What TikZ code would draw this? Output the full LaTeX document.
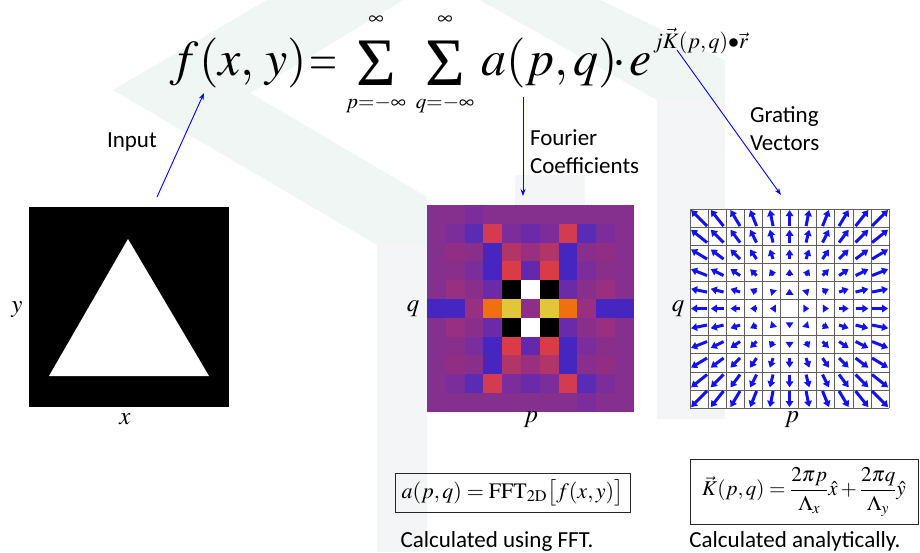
\documentclass[tikz,border=0pt]{standalone}
\usepackage{amsmath}
\usepackage{mathptmx}
\usepackage[no-math]{fontspec}
\setmainfont{Carlito}
\newfontfamily\tms{Liberation Serif}
\usetikzlibrary{arrows.meta}
\definecolor{wmG}{HTML}{EFF6F3}
\definecolor{wmS}{HTML}{F4F5F7}
\definecolor{hmA}{HTML}{852F8E}
\definecolor{hmB}{HTML}{7B2E9B}
\definecolor{hmC}{HTML}{5A2BB3}
\definecolor{hmR}{HTML}{D23B50}
\definecolor{hmD}{HTML}{6B2AA8}
\definecolor{hmE}{HTML}{912E84}
\definecolor{hmF}{HTML}{8A2E8B}
\definecolor{hmL}{HTML}{4526C0}
\definecolor{hmO}{HTML}{B13566}
\definecolor{hmG}{HTML}{982F80}
\definecolor{hmH}{HTML}{6328AC}
\definecolor{hmS}{HTML}{D93C48}
\definecolor{hmK}{HTML}{000000}
\definecolor{hmW}{HTML}{FFFFFF}
\definecolor{hmN}{HTML}{EE7010}
\definecolor{hmY}{HTML}{E2C63A}
\definecolor{hmM}{HTML}{8E2E8A}
\definecolor{arrblue}{HTML}{0000FF}
\definecolor{gvblue}{HTML}{1212EE}
\tikzset{
  lbl/.style={font=\fontsize{23}{23}\selectfont, anchor=base west},
  bigm/.style={font=\fontsize{50}{50}\selectfont, anchor=base west},
  sig/.style={font=\fontsize{68}{68}\selectfont\tms, anchor=south},
  lim/.style={font=\fontsize{21}{21}\selectfont, anchor=base},
  axl/.style={font=\fontsize{25}{25}\selectfont},
  conn/.style={draw=arrblue, line width=0.9pt, -{Stealth[length=7pt,width=5pt]}},
  gvarrow/.style={draw=gvblue, line width=3pt, -{Triangle[length=6pt,width=7.5pt]}},
  eqbox/.style={draw=black!85, line width=0.8pt},
  note/.style={font=\fontsize{23}{23}\selectfont, anchor=base}
}
\begin{document}
\begin{tikzpicture}[x=1pt,y=-1pt, every node/.style={inner sep=0pt, outer sep=0pt}]
\useasboundingbox (0,0) rectangle (920,552);
\fill[white] (0,0) rectangle (920,552);
% faint watermark
\fill[wmG] (113,90) -- (267,0) -- (403,0) -- (250,93) -- (427,197) -- (427,245) -- (377,245) -- cycle;
\fill[wmS] (377,245) rectangle (427,552);
\fill[wmG] (480,0) -- (600,0) -- (725,60) -- (725,100) -- (657,100) -- cycle;
\fill[wmS] (657,100) rectangle (725,419);
\fill[wmS] (515,175) rectangle (585,205);

% main equation
\node[bigm] (ef) at (170,75) {$f$};
\node[bigm] (exy) at (199,75) {$(x,\,y)$};
\node[bigm, xscale=0.72] (eeq) at (309,75) {$=$};
\node[sig] (s1) at (376,85) {Σ};
\node[sig] (s2) at (445,85) {Σ};
\node[lim] (l1) at (376,108) {$p{=}{-}\infty$};
\node[lim] (l2) at (445,108) {$q{=}{-}\infty$};
\node[lim] (u1) at (376,24) {$\infty$};
\node[lim] (u2) at (445,24) {$\infty$};
\node[bigm] (ea) at (481,75) {$a(p,q)$};
\node[bigm] (edot) at (612,75) {$\cdot$};
\node[bigm] (ee) at (629,75) {$e$};
\node[font=\fontsize{22}{22}\selectfont, anchor=base west] (eexp) at (653,48) {$j\vec K(p,q){\bullet}\vec r$};

% labels
\node[lbl] (tin) at (107,147) {Input};
\node[lbl] (tfc1) at (530,145) {Fourier};
\node[lbl] (tfc2) at (530,173) {Coefficients};
\node[lbl] (tgv1) at (750,122) {Grating};
\node[lbl] (tgv2) at (750,150) {Vectors};

% input image
\node[fill=black, minimum width=200, minimum height=200, anchor=north west] (img) at (29,207) {};
\fill[white] (128,239) -- (209,376) -- (49,376) -- cycle;
\node[axl] (ylab) at (17,310) {$y$};
\node[axl] (xlab) at (125,419) {$x$};

% heatmap
\foreach \row [count=\r from 0] in {
 {A,A,B,A,A,A,A,A,A,A,A},
 {A,B,C,R,B,D,B,R,C,B,A},
 {A,E,F,L,O,G,O,L,F,E,A},
 {A,F,B,L,S,H,S,L,B,F,A},
 {A,G,F,D,K,W,K,D,F,G,A},
 {L,L,G,N,Y,M,Y,N,G,L,L},
 {A,G,F,D,K,W,K,D,F,G,A},
 {A,F,B,L,S,H,S,L,B,F,A},
 {A,E,F,L,O,G,O,L,F,E,A},
 {A,B,C,R,B,D,B,R,C,B,A},
 {A,A,A,A,A,A,A,A,B,A,A}} {
  \foreach \cc [count=\k from 0] in \row {
    \fill[fill=hm\cc] ({427+\k*18.8},{205+\r*18.8}) rectangle ++(18.9,18.9);
  }
}
\node[minimum width=207, minimum height=207, anchor=north west] (hm) at (427,205) {};
\node[axl] (qlab1) at (413,309) {$q$};
\node[axl] (plab1) at (531,420) {$p$};

% grating vectors grid
\node[minimum width=199, minimum height=199, anchor=north west, fill=white] (gv) at (690,209) {};
\foreach \i in {0,...,11} {
  \draw[gray!75!black, line width=0.8pt] ({690+\i*18.1},209) -- ({690+\i*18.1},408.1);
  \draw[gray!75!black, line width=0.8pt] (690,{209+\i*18.1}) -- (889.1,{209+\i*18.1});
}
\foreach \r in {0,...,10} {
  \foreach \c in {0,...,10} {
    \ifnum\numexpr\c*100+\r\relax=505 \else
      \pgfmathsetmacro\px{(\c-5)*1.6}
      \pgfmathsetmacro\qy{(\r-5)*1.6}
      \draw[gvarrow] ({690+(\c+0.5)*18.1-\px},{209+(\r+0.5)*18.1-\qy}) -- ({690+(\c+0.5)*18.1+\px},{209+(\r+0.5)*18.1+\qy});
    \fi
  }
}
\node[axl] (qlab2) at (678,309) {$q$};
\node[axl] (plab2) at (792,420) {$p$};

% connectors
\coordinate (inA) at (157,197);
\coordinate (inB) at (204,93);
\draw[conn] (inA) -- (inB);
\coordinate (fcA) at (523,97);
\coordinate (fcB) at (523,196);
\draw[conn] (fcA) -- (fcB);
\coordinate (gvA) at (677,50);
\coordinate (gvB) at (781,195);
\draw[conn] (gvA) -- (gvB);

% bottom formulas
\node[eqbox, minimum width=235, minimum height=39, font=\fontsize{22}{22}\selectfont] (box1) at (512.5,492.5) {$a(p,q)=\mathrm{FFT}_{\mathrm{2D}}\big[f(x,y)\big]$};
\node[eqbox, minimum width=228, minimum height=65, font=\fontsize{21}{21}\selectfont] (box2) at (804,492) {$\vec K(p,q)=\dfrac{2\pi p}{\Lambda_x}\hat x+\dfrac{2\pi q}{\Lambda_y}\hat y$};
\node[note] (n1) at (497,547) {Calculated using FFT.};
\node[note] (n2) at (795,547) {Calculated analytically.};
\end{tikzpicture}
\end{document}
